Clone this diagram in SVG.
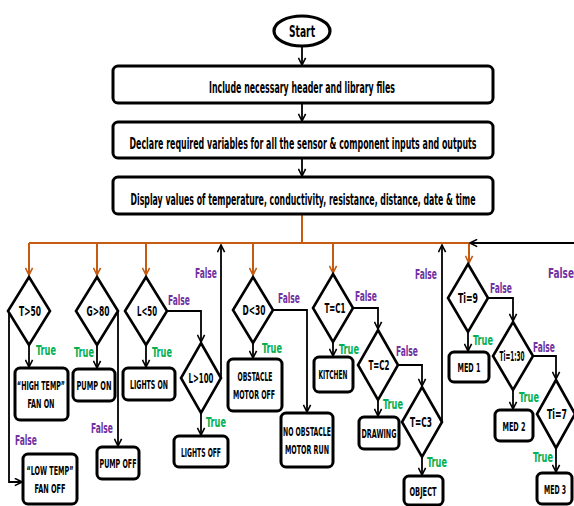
<svg xmlns="http://www.w3.org/2000/svg" width="574" height="506" viewBox="0 0 574 506">
<defs>
<marker id="ab" viewBox="0 0 10 10" refX="9" refY="5" markerWidth="9" markerHeight="9" markerUnits="userSpaceOnUse" orient="auto"><path d="M1,1 L9,5 L1,9" fill="none" stroke="#000" stroke-width="1.8"/></marker>
<marker id="ao" viewBox="0 0 10 10" refX="9" refY="5" markerWidth="9" markerHeight="9" markerUnits="userSpaceOnUse" orient="auto"><path d="M1,1 L9,5 L1,9" fill="none" stroke="#C55A11" stroke-width="1.8"/></marker>
<style>
text{font-family:"Liberation Sans Narrow","DejaVu Sans Condensed","Liberation Sans",sans-serif;font-weight:bold;text-anchor:middle;fill:#000}
.box{fill:#fff;stroke:#000;stroke-width:3}
.dia{fill:#fff;stroke:#000;stroke-width:2.6}
.big{font-size:15.5px}
.lbl{font-size:14px}
.sm{font-size:13px}
.t{fill:#00B050;font-size:14.5px}
.f{fill:#7030A0;font-size:14.5px}
.cb{fill:none;stroke:#000;stroke-width:1.8}
.co{fill:none;stroke:#C55A11;stroke-width:2}
</style>
</defs>
<rect width="574" height="506" fill="#fff"/>

<g id="connectors">
<path class="cb" d="M302,47 V65" marker-end="url(#ab)"/>
<path class="cb" d="M302,103 V121" marker-end="url(#ab)"/>
<path class="cb" d="M302,159 V176" marker-end="url(#ab)"/>
<path class="co" d="M302,215 V243 M29,243 H469"/>
<path class="co" d="M29,243 V275" marker-end="url(#ao)"/>
<path class="co" d="M97,243 V275" marker-end="url(#ao)"/>
<path class="co" d="M146,243 V275" marker-end="url(#ao)"/>
<path class="co" d="M253,243 V275" marker-end="url(#ao)"/>
<path class="co" d="M333,243 V273" marker-end="url(#ao)"/>
<path class="co" d="M469,243 V263" marker-end="url(#ao)"/>
<path class="cb" d="M574,243 H470" marker-end="url(#ab)"/>
<path class="cb" d="M29,345 V367" marker-end="url(#ab)"/>
<path class="cb" d="M9,311 V482 H22" marker-end="url(#ab)"/>
<path class="cb" d="M97,345 V368" marker-end="url(#ab)"/>
<path class="cb" d="M118,311 V446" marker-end="url(#ab)"/>
<path class="cb" d="M146,345 V367" marker-end="url(#ab)"/>
<path class="cb" d="M167,311 H201 V342" marker-end="url(#ab)"/>
<path class="cb" d="M221,378 V245" marker-end="url(#ab)"/>
<path class="cb" d="M201,413 V435" marker-end="url(#ab)"/>
<path class="cb" d="M253,343 V358" marker-end="url(#ab)"/>
<path class="cb" d="M273,310 H307 V412" marker-end="url(#ab)"/>
<path class="cb" d="M333,342 V356" marker-end="url(#ab)"/>
<path class="cb" d="M353,308 H378 V329" marker-end="url(#ab)"/>
<path class="cb" d="M378,400 V416" marker-end="url(#ab)"/>
<path class="cb" d="M398,365 H422 V386" marker-end="url(#ab)"/>
<path class="cb" d="M422,457 V475" marker-end="url(#ab)"/>
<path class="cb" d="M442,422 V245" marker-end="url(#ab)"/>
<path class="cb" d="M468,332 V351" marker-end="url(#ab)"/>
<path class="cb" d="M488,298 H513 V321" marker-end="url(#ab)"/>
<path class="cb" d="M513,390 V409" marker-end="url(#ab)"/>
<path class="cb" d="M533,356 H556 V379" marker-end="url(#ab)"/>
<path class="cb" d="M556,448 V472" marker-end="url(#ab)"/>
</g>

<g id="start"><ellipse cx="302" cy="31" rx="28" ry="15" fill="#fff" stroke="#000" stroke-width="3.2"/><text class="big" x="302" y="36.5" textLength="26" lengthAdjust="spacingAndGlyphs">Start</text></g>
<g id="include"><rect class="box" x="113" y="66" width="380" height="37" rx="5"/><text class="big" x="302" y="92.5" textLength="186" lengthAdjust="spacingAndGlyphs">Include necessary header and library files</text></g>
<g id="declare"><rect class="box" x="113" y="122" width="380" height="36" rx="5"/><text class="big" x="303" y="148.5" textLength="347" lengthAdjust="spacingAndGlyphs">Declare required variables for all the sensor &amp; component inputs and outputs</text></g>
<g id="display"><rect class="box" x="113" y="177" width="380" height="37" rx="5"/><text class="big" x="303" y="204.5" textLength="345" lengthAdjust="spacingAndGlyphs">Display values of temperature, conductivity, resistance, distance, date &amp; time</text></g>

<g id="d-t50"><path class="dia" d="M29,277 L50,311 L29,345 L8,311 Z"/><text class="lbl" x="30" y="316" textLength="22" lengthAdjust="spacingAndGlyphs">T&gt;50</text></g>
<g id="d-g80"><path class="dia" d="M97,277 L118,311 L97,345 L76,311 Z"/><text class="lbl" x="98" y="316" textLength="23" lengthAdjust="spacingAndGlyphs">G&gt;80</text></g>
<g id="d-l50"><path class="dia" d="M146,277 L167,311 L146,345 L125,311 Z"/><text class="lbl" x="147" y="316" textLength="20" lengthAdjust="spacingAndGlyphs">L&lt;50</text></g>
<g id="d-l100"><path class="dia" d="M201,343 L221,378 L201,413 L181,378 Z"/><text class="lbl" x="201" y="383" textLength="25" lengthAdjust="spacingAndGlyphs">L&gt;100</text></g>
<g id="d-d30"><path class="dia" d="M253,277 L273,310 L253,343 L233,310 Z"/><text class="lbl" x="254" y="315" textLength="23" lengthAdjust="spacingAndGlyphs">D&lt;30</text></g>
<g id="d-tc1"><path class="dia" d="M333,274 L353,308 L333,342 L313,308 Z"/><text class="lbl" x="335" y="313" textLength="21" lengthAdjust="spacingAndGlyphs">T=C1</text></g>
<g id="d-tc2"><path class="dia" d="M378,330 L398,365 L378,400 L358,365 Z"/><text class="lbl" x="379" y="370" textLength="21" lengthAdjust="spacingAndGlyphs">T=C2</text></g>
<g id="d-tc3"><path class="dia" d="M422,387 L442,422 L422,457 L402,422 Z"/><text class="lbl" x="421" y="427" textLength="22" lengthAdjust="spacingAndGlyphs">T=C3</text></g>
<g id="d-ti9"><path class="dia" d="M468,264 L488,298 L468,332 L448,298 Z"/><text class="lbl" x="468" y="303" textLength="20" lengthAdjust="spacingAndGlyphs">Ti=9</text></g>
<g id="d-ti130"><path class="dia" d="M513,322 L533,356 L513,390 L493,356 Z"/><text class="lbl" x="512" y="361" textLength="25" lengthAdjust="spacingAndGlyphs">Ti=1:30</text></g>
<g id="d-ti7"><path class="dia" d="M556,380 L575,414 L556,448 L537,414 Z"/><text class="lbl" x="557" y="419" textLength="20" lengthAdjust="spacingAndGlyphs">Ti=7</text></g>

<g id="b-high"><rect class="box" x="15" y="368" width="53" height="52" rx="5"/><text class="sm" x="41" y="390" textLength="48" lengthAdjust="spacingAndGlyphs">“HIGH TEMP”</text><text class="sm" x="41" y="408" textLength="27" lengthAdjust="spacingAndGlyphs">FAN ON</text></g>
<g id="b-low"><rect class="box" x="23" y="454" width="54" height="50" rx="5"/><text class="sm" x="50" y="475" textLength="47" lengthAdjust="spacingAndGlyphs">“LOW TEMP”</text><text class="sm" x="50" y="493" textLength="31" lengthAdjust="spacingAndGlyphs">FAN OFF</text></g>
<g id="b-pumpon"><rect class="box" x="73" y="369" width="42" height="32" rx="5"/><text class="sm" x="94" y="390" textLength="35" lengthAdjust="spacingAndGlyphs">PUMP ON</text></g>
<g id="b-pumpoff"><rect class="box" x="97" y="447" width="42" height="32" rx="5"/><text class="sm" x="118" y="468" textLength="37" lengthAdjust="spacingAndGlyphs">PUMP OFF</text></g>
<g id="b-lightson"><rect class="box" x="123" y="368" width="52" height="32" rx="5"/><text class="sm" x="149" y="389" textLength="38" lengthAdjust="spacingAndGlyphs">LIGHTS ON</text></g>
<g id="b-lightsoff"><rect class="box" x="174" y="436" width="54" height="31" rx="5"/><text class="sm" x="201" y="456.5" textLength="40" lengthAdjust="spacingAndGlyphs">LIGHTS OFF</text></g>
<g id="b-obstacle"><rect class="box" x="228" y="359" width="54" height="52" rx="5"/><text class="sm" x="255" y="381" textLength="35" lengthAdjust="spacingAndGlyphs">OBSTACLE</text><text class="sm" x="254" y="399" textLength="42" lengthAdjust="spacingAndGlyphs">MOTOR OFF</text></g>
<g id="b-noobstacle"><rect class="box" x="281" y="413" width="52" height="54" rx="5"/><text class="sm" x="307" y="436" textLength="48" lengthAdjust="spacingAndGlyphs">NO OBSTACLE</text><text class="sm" x="307" y="454" textLength="44" lengthAdjust="spacingAndGlyphs">MOTOR RUN</text></g>
<g id="b-kitchen"><rect class="box" x="314" y="357" width="39" height="35" rx="5"/><text class="sm" x="333" y="379" textLength="29" lengthAdjust="spacingAndGlyphs">KITCHEN</text></g>
<g id="b-drawing"><rect class="box" x="359" y="417" width="40" height="32" rx="5"/><text class="sm" x="379" y="438" textLength="35" lengthAdjust="spacingAndGlyphs">DRAWING</text></g>
<g id="b-object"><rect class="box" x="404" y="476" width="39" height="29" rx="5"/><text class="sm" x="423" y="496" textLength="27" lengthAdjust="spacingAndGlyphs">OBJECT</text></g>
<g id="b-med1"><rect class="box" x="449" y="352" width="40" height="30" rx="5"/><text class="sm" x="469" y="372" textLength="23" lengthAdjust="spacingAndGlyphs">MED 1</text></g>
<g id="b-med2"><rect class="box" x="495" y="410" width="38" height="31" rx="5"/><text class="sm" x="514" y="431" textLength="23" lengthAdjust="spacingAndGlyphs">MED 2</text></g>
<g id="b-med3"><rect class="box" x="537" y="473" width="35" height="31" rx="5"/><text class="sm" x="555" y="494" textLength="22" lengthAdjust="spacingAndGlyphs">MED 3</text></g>

<g id="labels">
<text class="t" x="46" y="355" textLength="20" lengthAdjust="spacingAndGlyphs">True</text>
<text class="t" x="84" y="357" textLength="20" lengthAdjust="spacingAndGlyphs">True</text>
<text class="t" x="162" y="357" textLength="20" lengthAdjust="spacingAndGlyphs">True</text>
<text class="t" x="216" y="427" textLength="20" lengthAdjust="spacingAndGlyphs">True</text>
<text class="t" x="272" y="353" textLength="20" lengthAdjust="spacingAndGlyphs">True</text>
<text class="t" x="349" y="354" textLength="20" lengthAdjust="spacingAndGlyphs">True</text>
<text class="t" x="393" y="409" textLength="20" lengthAdjust="spacingAndGlyphs">True</text>
<text class="t" x="437" y="467" textLength="20" lengthAdjust="spacingAndGlyphs">True</text>
<text class="t" x="483" y="345" textLength="20" lengthAdjust="spacingAndGlyphs">True</text>
<text class="t" x="529" y="402" textLength="20" lengthAdjust="spacingAndGlyphs">True</text>
<text class="t" x="543" y="462" textLength="20" lengthAdjust="spacingAndGlyphs">True</text>
<text class="f" x="26" y="445" textLength="22" lengthAdjust="spacingAndGlyphs">False</text>
<text class="f" x="102" y="433" textLength="22" lengthAdjust="spacingAndGlyphs">False</text>
<text class="f" x="179" y="305" textLength="22" lengthAdjust="spacingAndGlyphs">False</text>
<text class="f" x="206" y="278" textLength="22" lengthAdjust="spacingAndGlyphs">False</text>
<text class="f" x="289" y="303" textLength="22" lengthAdjust="spacingAndGlyphs">False</text>
<text class="f" x="366" y="301" textLength="22" lengthAdjust="spacingAndGlyphs">False</text>
<text class="f" x="407" y="356" textLength="22" lengthAdjust="spacingAndGlyphs">False</text>
<text class="f" x="426" y="279" textLength="22" lengthAdjust="spacingAndGlyphs">False</text>
<text class="f" x="501" y="293" textLength="22" lengthAdjust="spacingAndGlyphs">False</text>
<text class="f" x="544" y="352" textLength="22" lengthAdjust="spacingAndGlyphs">False</text>
<text class="f" x="561" y="278" textLength="26" lengthAdjust="spacingAndGlyphs">False</text>
</g>
</svg>
